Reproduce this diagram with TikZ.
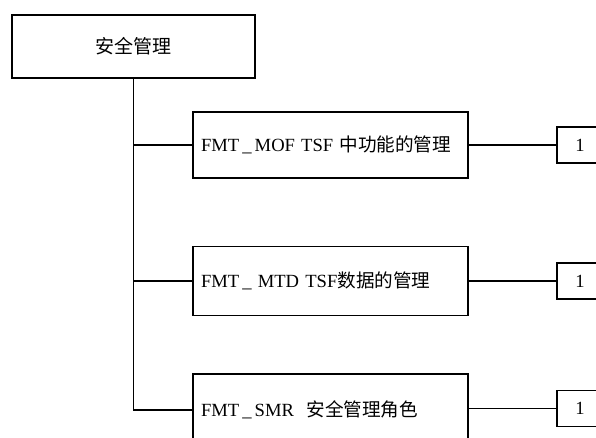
\documentclass[tikz,border=0pt]{standalone}
\usepackage{fontspec}
\setmainfont{Liberation Serif}
\newfontfamily\cjk{Noto Sans CJK SC}
\begin{document}
\begin{tikzpicture}[x=1pt,y=-1pt,
  box/.style={draw,line width=1.4pt,rectangle,inner xsep=8pt,inner ysep=0pt,align=left,font=\fontsize{18.6}{21}\selectfont},
  numbox/.style={draw,line width=1.4pt,rectangle,inner sep=0pt,minimum width=46pt,minimum height=36pt,font=\fontsize{18.6}{21}\selectfont},
  link/.style={line width=1.1pt}]
\useasboundingbox (0,0) rectangle (596,438);
\clip (0,0) rectangle (596,438);
\node[box,align=center,minimum width=243pt,minimum height=63pt,font=\fontsize{19}{21}\selectfont] (top) at (133.5,46.5) {{\cjk 安全管理}};
\node[box,text width=259pt,minimum height=66pt] (b1) at (330.5,145) {FMT\,\_\,MOF TSF {\cjk 中功能的管理}};
\node[box,text width=259pt,minimum height=69pt] (b2) at (330.5,281) {FMT\,\_\,\,MTD TSF{\cjk 数据的管理}};
\node[box,text width=259pt,minimum height=72pt] (b3) at (330.5,410) {FMT\,\_\,SMR\ \ {\cjk 安全管理角色}};
\node[numbox] (n1) at (580,145) {1};
\node[numbox] (n2) at (580,281) {1};
\node[numbox] (n3) at (580,408.5) {1};
\draw[link] (top.south) -- (top.south |- b3.west) -- (b3.west);
\draw[link] (top.south |- b1.west) -- (b1.west);
\draw[link] (top.south |- b2.west) -- (b2.west);
\draw[link] (b1.east) -- (n1.west);
\draw[link] (b2.east) -- (n2.west);
\draw[link] (b3.east |- n3.west) -- (n3.west);
\end{tikzpicture}
\end{document}
